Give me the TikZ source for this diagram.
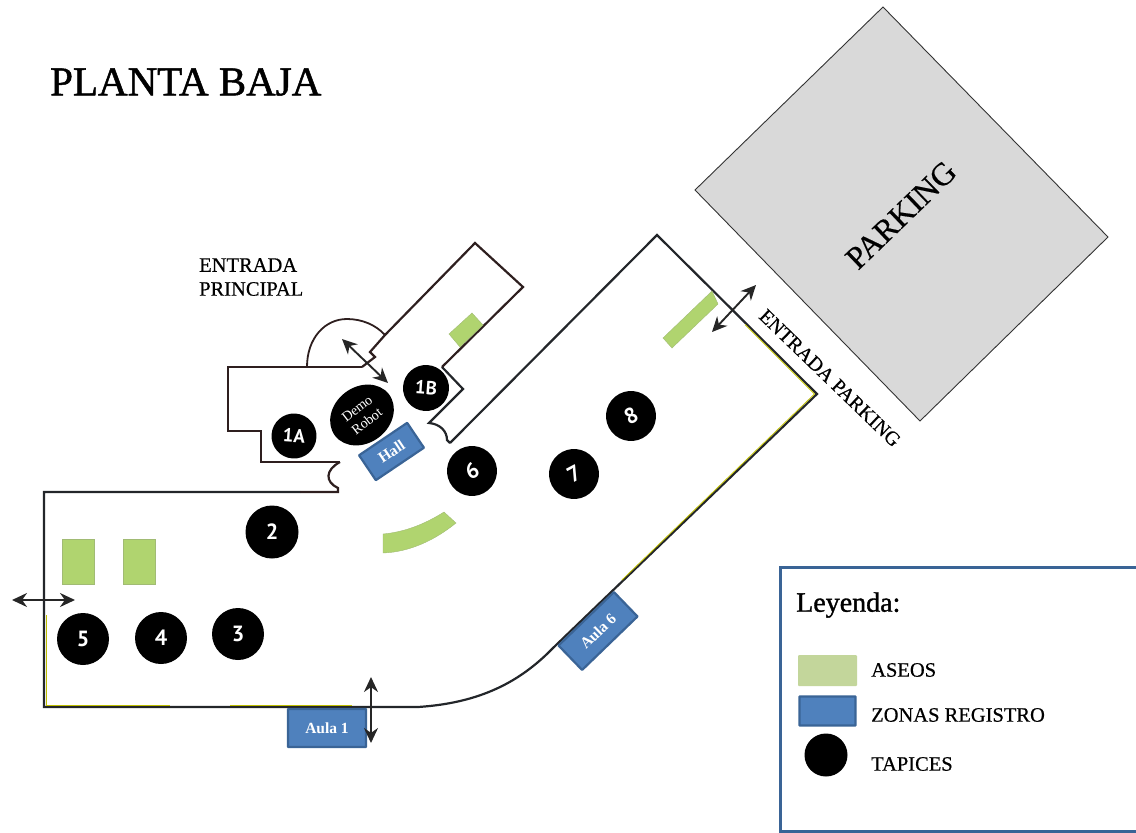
\documentclass[tikz,border=0pt]{standalone}
\usepackage{fontspec}
\setmainfont{Liberation Serif}
\newfontfamily\numfont{PT Sans}
\newfontfamily\recia[FakeBold=0.5]{Liberation Serif}
\newfontfamily\titfont[FakeBold=1.2]{Liberation Serif}
\usetikzlibrary{arrows.meta, shapes.geometric}
\definecolor{wallcol}{HTML}{23262A}
\definecolor{wingcol}{HTML}{2E1F1F}
\definecolor{aseocol}{HTML}{B0D46F}
\definecolor{leyaseo}{HTML}{C3D69B}
\definecolor{zonacol}{HTML}{4F81BD}
\definecolor{zonaline}{HTML}{3A6496}
\definecolor{parkcol}{HTML}{D9D9D9}
\tikzset{
    wall/.style={draw=wallcol, line width=2.2pt, line join=miter},
    wing/.style={draw=wingcol, line width=2.2pt, line join=miter},
    tinge/.style={draw={rgb:yellow,3;black,1}, line width=0.8pt},
    aseo/.style={fill=aseocol, draw=aseocol!70!gray, line width=0.4pt},
    tapiz/.style={circle, fill=black, text=white, inner sep=0pt, font=\numfont\bfseries\fontsize{22}{22}\selectfont},
    tapizb/.style={tapiz, font=\numfont\bfseries\fontsize{19}{19}\selectfont},
    zona/.style={rectangle, fill=zonacol, draw=zonaline, line width=2.2pt, text=white, inner sep=0pt, rounded corners=0.5pt, font=\bfseries\fontsize{15.5}{15.5}\selectfont},
    flecha/.style={black!85, line width=1.9pt, {Stealth[length=15pt,width=14pt]}-{Stealth[length=15pt,width=14pt]}},
    rotulo/.style={inner sep=0pt, text=black, font=\recia\fontsize{20.5}{24}\selectfont}
}
\begin{document}
\begin{tikzpicture}[x=1pt, y=-1pt]
        \useasboundingbox (0, 0) rectangle (1136, 833);

        \fill[fill=parkcol, draw=black!80, line width=0.9pt] (883, 7) -- (1108, 237) -- (920, 421) -- (695, 190) -- cycle;
        \node[rotate=44, inner sep=0pt, font=\recia\fontsize{32}{32}\selectfont] (parking) at (901, 215) {PARKING};

        \node[anchor=west, inner sep=0pt, font=\titfont\fontsize{41}{41}\selectfont] (titulo) at (50, 82) {PLANTA BAJA};
        \node[anchor=west, rotulo] (entrada1) at (199, 265) {ENTRADA};
        \node[anchor=west, rotulo] (entrada2) at (199, 289) {PRINCIPAL};
        \node[rotate=-44, rotulo, font=\recia\fontsize{20}{24}\selectfont] (entrada3) at (830, 378) {ENTRADA PARKING};

        \draw[wing] (362, 367) -- (228, 367) -- (228, 431) -- (261, 431) -- (261, 462) -- (340, 462);
        \draw[wing] (340, 462) .. controls (325, 470) and (325, 482) .. (338, 488) -- (338, 492) -- (300, 492);
        \draw[wall] (300, 492) -- (44, 492) -- (44, 707) -- (418, 707) .. controls (480, 703) and (520, 682) .. (553, 648) -- (817, 394) -- (657, 235) -- (450, 443);
        \draw[wall] (450, 443) -- (447, 440) .. controls (447, 431) and (440, 424) .. (429, 423) -- (463, 389) -- (442, 367);
        \draw[wing] (442, 367) -- (523, 287) -- (475, 243) -- (385, 335) -- (370, 352) -- (375, 357) -- (362, 367);
        \draw[wing, line width=1.8pt] (307, 367) .. controls (307, 338) and (325, 319) .. (347, 319) .. controls (362, 319) and (376, 325) .. (385, 335);
        \draw[tinge] (46.5, 615) -- (46.5, 705) -- (170, 705);
        \draw[tinge] (230, 705) -- (352, 705);
        \draw[tinge] (745, 324.5) -- (814.5, 394) -- (622, 580);

        \fill[aseo] (62, 539) rectangle (94, 584);
        \fill[aseo] (123, 539) rectangle (155, 584);
        \fill[aseo] (472, 313) -- (483, 325) -- (460, 347) -- (449, 334) -- cycle;
        \fill[aseo] (712, 291) -- (718, 304) -- (672, 348) -- (663, 338) -- cycle;
        \fill[aseo] (383, 534) .. controls (405, 532) and (425, 524) .. (444, 512) -- (456, 523) .. controls (435, 540) and (410, 552) .. (383, 553) -- cycle;

        \node[tapizb, minimum size=45pt, rotate=-4] (t1a) at (294, 436) {1A};
        \node[tapizb, minimum size=46pt, rotate=-4] (t1b) at (426, 388) {1B};
        \node[tapiz, minimum size=53pt] (t2) at (272, 532) {2};
        \node[tapiz, minimum size=52pt] (t3) at (238, 634) {3};
        \node[tapiz, minimum size=52pt] (t4) at (161, 638) {4};
        \node[tapiz, minimum size=52pt] (t5) at (83, 639) {5};
        \node[tapiz, minimum size=50pt, rotate=28] (t6) at (472, 471) {6};
        \node[tapiz, minimum size=50pt, rotate=28] (t7) at (574, 474) {7};
        \node[tapiz, minimum size=50pt, rotate=28] (t8) at (631, 416) {8};
        \node[ellipse, fill=black, rotate=38, minimum width=68pt, minimum height=56pt, inner sep=0pt, align=center, text=white, font=\fontsize{14}{16}\selectfont] (demo) at (362, 415) {Demo\\Robot};

        \node[zona, rotate=34, minimum width=58pt, minimum height=30pt] (hall) at (391.5, 451.5) {Hall};
        \node[zona, minimum width=78pt, minimum height=38pt] (aula1) at (327, 728) {Aula 1};
        \node[zona, minimum width=77pt, minimum height=34pt, rotate=44] (aula6) at (598, 631) {Aula 6};

        \coordinate (p1a) at (342, 339);
        \coordinate (p1b) at (388, 383);
        \coordinate (p2a) at (12, 600);
        \coordinate (p2b) at (75, 600);
        \coordinate (p3a) at (371, 677);
        \coordinate (p3b) at (371, 743);
        \coordinate (p4a) at (756, 285);
        \coordinate (p4b) at (712, 332);
        \draw[flecha] (p1a) -- (p1b);
        \draw[flecha] (p2a) -- (p2b);
        \draw[flecha] (p3a) -- (p3b);
        \draw[flecha] (p4a) -- (p4b);

        \draw[draw=zonaline, line width=3pt, fill=white] (780, 567) -- (1142, 567) -- (1142, 831) -- (780, 831) -- cycle;
        \node[anchor=west, inner sep=0pt, font=\titfont\fontsize{28}{28}\selectfont] (leyenda) at (796, 605) {Leyenda:};
        \node[rectangle, fill=leyaseo, minimum width=59pt, minimum height=31pt, inner sep=0pt, rounded corners=1pt] (sw1) at (827.5, 670.5) {};
        \node[zona, minimum width=56pt, minimum height=29pt] (sw2) at (827.5, 711) {};
        \node[tapiz, minimum size=43pt] (sw3) at (826, 755) {};
        \node[anchor=west, rotulo] (ley1) at (871, 670) {ASEOS};
        \node[anchor=west, rotulo] (ley2) at (871, 715) {ZONAS REGISTRO};
        \node[anchor=west, rotulo] (ley3) at (871, 764) {TAPICES};
    \end{tikzpicture}
\end{document}
